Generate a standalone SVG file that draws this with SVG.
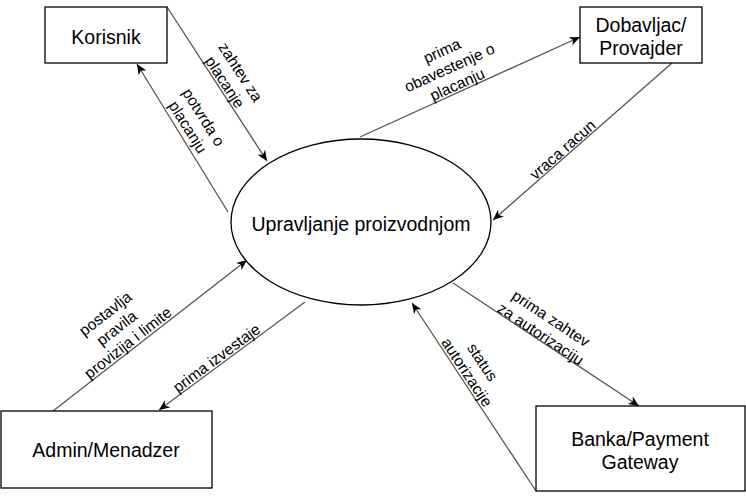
<svg xmlns="http://www.w3.org/2000/svg" width="746" height="501" viewBox="0 0 746 501">
<defs>
<style>
.box{fill:#fff;stroke:#000;stroke-width:1.3}
.nt{font-family:"Liberation Sans",Arial,sans-serif;font-size:19.5px;fill:#000;text-anchor:middle}
.lt{font-family:"Liberation Sans",Arial,sans-serif;font-size:15.6px;fill:#000;text-anchor:middle}
.edge{fill:none;stroke:#555;stroke-width:1.3;marker-end:url(#arr)}
</style>
<marker id="arr" markerUnits="userSpaceOnUse" markerWidth="11" markerHeight="9" refX="10.5" refY="4.5" orient="auto">
<path d="M0,0 L10.5,4.5 L0,9 L3,4.5 Z" fill="#000"/>
</marker>
</defs>
<rect width="746" height="501" fill="#fff"/>
<g id="connectors">
<line class="edge" x1="167" y1="7" x2="267" y2="161"/>
<line class="edge" x1="228" y1="212" x2="137" y2="64"/>
<line class="edge" x1="360" y1="137" x2="580" y2="37"/>
<line class="edge" x1="672" y1="63" x2="493" y2="220"/>
<line class="edge" x1="453" y1="283" x2="639" y2="406"/>
<line class="edge" x1="536" y1="491" x2="412" y2="303"/>
<line class="edge" x1="53" y1="411" x2="247" y2="260"/>
<line class="edge" x1="305" y1="302" x2="159" y2="410"/>
<text class="lt" transform="translate(233,77) rotate(57)"><tspan x="0" y="-3.6">zahtev za</tspan><tspan x="0" y="15">placanje</tspan></text>
<text class="lt" transform="translate(196,122) rotate(58)"><tspan x="0" y="-3.6">potvrda o</tspan><tspan x="0" y="15">placanju</tspan></text>
<text class="lt" transform="translate(449.5,67.5) rotate(-24.4)"><tspan x="0" y="-12.9">prima</tspan><tspan x="0" y="5.5">obavestenje o</tspan><tspan x="0" y="24">placanju</tspan></text>
<text class="lt" transform="translate(562.5,149.5) rotate(-41.3)"><tspan x="0" y="5.5">vraca racun</tspan></text>
<text class="lt" transform="translate(546,326) rotate(33.5)"><tspan x="0" y="-3.6">prima zahtev</tspan><tspan x="0" y="15">za autorizaciju</tspan></text>
<text class="lt" transform="translate(475,367) rotate(56.6)"><tspan x="0" y="-3.6">status</tspan><tspan x="0" y="15">autorizacije</tspan></text>
<text class="lt" transform="translate(116.5,328) rotate(-38)"><tspan x="0" y="-12.9">postavlja</tspan><tspan x="0" y="5.5">pravila</tspan><tspan x="0" y="24">provizija i limite</tspan></text>
<text class="lt" transform="translate(216.5,358) rotate(-36.5)"><tspan x="0" y="5.5">prima izvestaje</tspan></text>
</g>
<g id="korisnik">
<rect class="box" x="45" y="7" width="122" height="56"/>
<text class="nt" x="106" y="44">Korisnik</text>
</g>
<g id="dobavljac">
<rect class="box" x="580" y="7" width="122" height="56"/>
<text class="nt" x="641" y="32">Dobavljac/</text>
<text class="nt" x="641" y="55">Provajder</text>
</g>
<g id="proces">
<ellipse class="box" cx="361" cy="222" rx="130" ry="83"/>
<text class="nt" x="361" y="231">Upravljanje proizvodnjom</text>
</g>
<g id="admin">
<rect class="box" x="1" y="411" width="211" height="77"/>
<text class="nt" x="106" y="457">Admin/Menadzer</text>
</g>
<g id="banka">
<rect class="box" x="536" y="406" width="209" height="85"/>
<text class="nt" x="640" y="446">Banka/Payment</text>
<text class="nt" x="640" y="469">Gateway</text>
</g>
</svg>
